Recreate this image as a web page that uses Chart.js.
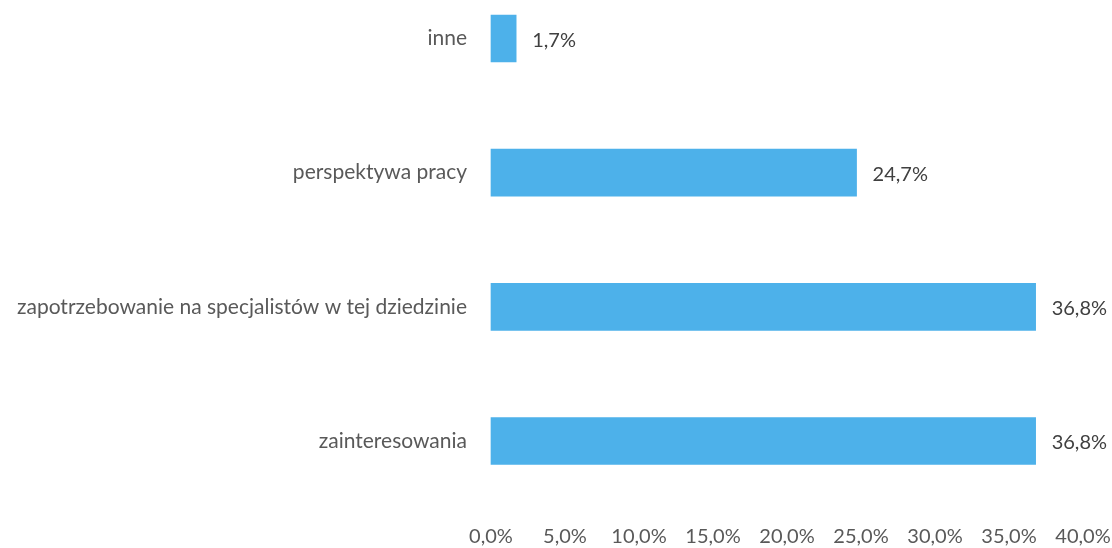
<!DOCTYPE html>
<html><head><meta charset="utf-8">
<script src="https://cdn.jsdelivr.net/npm/chart.js@4/dist/chart.umd.min.js"></script>
<style>html,body{margin:0;padding:0;background:#fff;}#wrap{width:1112px;height:548px;position:relative;}</style>
</head><body><div id="wrap"><canvas id="c" width="1112" height="548"></canvas></div>
<script>
const categories = ["inne", "perspektywa pracy", "zapotrzebowanie na specjalistów w tej dziedzinie", "zainteresowania"];
const values = [1.7, 24.7, 36.8, 36.8];
const xTicks = [0, 5, 10, 15, 20, 25, 30, 35, 40];

const FONT = "Lato, 'Open Sans', sans-serif";
const fmt = v => v.toFixed(1).replace('.', ',') + '%';

const labelPlugin = {
  id: 'valLabels',
  afterDatasetsDraw(chart) {
    const ctx = chart.ctx;
    const meta = chart.getDatasetMeta(0);
    ctx.save();
    ctx.font = "20px " + FONT;
    ctx.fillStyle = '#404040';
    ctx.textBaseline = 'middle';
    ctx.textAlign = 'left';
    meta.data.forEach((bar, i) => {
      ctx.fillText(fmt(values[i]), bar.x + 16, bar.y + 2);
    });
    ctx.restore();
  }
};

new Chart(document.getElementById('c'), {
  type: 'bar',
  data: {
    labels: categories,
    datasets: [{
      data: values,
      backgroundColor: '#4db1ea',
      borderWidth: 0,
      barThickness: 47,
      clip: false
    }]
  },
  options: {
    indexAxis: 'y',
    responsive: false,
    animation: false,
    events: [],
    layout: { padding: { top: 38.5, bottom: 0, left: 0, right: 29 } },
    plugins: { legend: { display: false }, tooltip: { enabled: false } },
    scales: {
      x: {
        min: 0, max: 40,
        afterBuildTicks(scale) { scale.ticks = xTicks.map(v => ({ value: v })); },
        afterFit(scale) { scale.height = 107; scale.paddingLeft = 0; scale.paddingRight = 0; },
        grid: { display: false },
        border: { display: false },
        ticks: {
          callback: v => fmt(v),
          color: '#595959',
          font: { family: FONT, size: 20 },
          padding: 76,
          maxRotation: 0,
          autoSkip: false
        }
      },
      y: {
        offset: false,
        grid: { display: false },
        border: { display: false },
        afterFit(scale) { scale.width = 491; },
        ticks: {
          color: '#595959',
          font: { family: FONT, size: 21 },
          padding: 16,
          autoSkip: false
        }
      }
    }
  },
  plugins: [labelPlugin]
});
</script>
</body></html>
